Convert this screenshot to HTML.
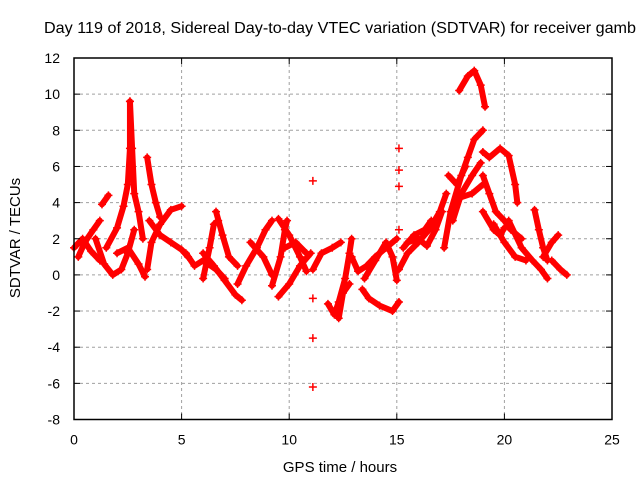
<!DOCTYPE html>
<html><head><meta charset="utf-8"><style>
body{margin:0;background:#fff}
svg{display:block;font-family:"Liberation Sans",sans-serif}
</style></head><body>
<svg id="chart" width="640" height="480" viewBox="0 0 640 480">
<text x="340" y="33" text-anchor="middle" font-size="16" textLength="592" lengthAdjust="spacingAndGlyphs" fill="#000">Day 119 of 2018, Sidereal Day-to-day VTEC variation (SDTVAR) for receiver gamb</text>
<text x="340" y="472" text-anchor="middle" font-size="15">GPS time / hours</text>
<text transform="translate(20,238) rotate(-90)" text-anchor="middle" font-size="15">SDTVAR / TECUs</text>
<g id="grid"></g>
<g id="marks"></g>
<g id="axes"></g>
</svg>
<script>
const xTicks=[0,5,10,15,20,25];
const yTicks=[-8,-6,-4,-2,0,2,4,6,8,10,12];
const traceA=[[0,1.5],[0.4,2.0],[0.8,1.3],[1.2,0.8]];
const traceB=[[0.2,1.0],[0.5,1.8],[0.9,2.5],[1.2,3.0]];
const traceC=[[1.3,3.9],[1.6,4.4]];
const traceD=[[1.0,2.0],[1.4,0.6],[1.8,0.0],[2.2,0.3],[2.5,1.2],[2.8,2.5]];
const traceE=[[1.5,1.5],[2.0,2.6],[2.3,3.8],[2.5,5.0],[2.6,7.0],[2.6,9.6]];
const traceF=[[2.6,9.6],[2.7,7.0],[2.8,4.5],[3.0,3.5],[3.2,2.0]];
const traceG=[[2.0,1.2],[2.5,1.5],[3.0,0.6],[3.3,-0.1]];
const traceH=[[3.4,6.5],[3.6,5.0],[3.8,4.0],[4.0,3.2]];
const traceI=[[3.4,0.3],[3.6,1.8],[4.0,2.8],[4.5,3.6],[5.0,3.8]];
const traceJ=[[3.5,3.0],[4.0,2.2],[4.5,1.8],[5.0,1.4],[5.3,1.0]];
const traceK=[[5.2,1.2],[5.6,0.5],[6.0,0.8],[6.6,0.3],[7.0,-0.2]];
const traceL=[[6.0,-0.2],[6.3,1.5],[6.5,2.8],[6.7,3.0]];
const traceM=[[6.6,3.5],[6.9,2.2],[7.2,1.0],[7.6,0.5]];
const traceN=[[6.0,1.2],[6.5,0.5],[7.0,-0.3],[7.5,-1.1],[7.8,-1.4]];
const traceO=[[7.6,-0.5],[8.0,0.5],[8.5,1.5],[8.9,2.5],[9.2,3.0]];
const traceP=[[8.2,1.8],[8.8,1.0],[9.2,0.0]];
const traceQ=[[9.2,-0.6],[9.6,1.0],[9.8,2.5],[9.9,3.0]];
const traceR=[[9.5,3.1],[10.0,2.2],[10.5,1.0],[10.8,0.2]];
const traceS=[[9.5,-1.2],[10.0,-0.5],[10.5,0.5],[11.0,1.2]];
const traceT=[[9.8,1.5],[10.3,1.8],[10.8,1.2]];
const traceU=[[11.1,0.3],[11.5,1.2],[12.0,1.5],[12.4,1.8]];
const traceV=[[11.8,-1.6],[12.1,-2.2],[12.3,-1.5],[12.6,-0.2],[12.8,1.2],[12.9,2.0]];
const traceW=[[12.3,-2.4],[12.5,-1.0],[12.8,-0.5]];
const traceX=[[12.9,1.0],[13.2,0.2],[13.6,0.5],[14.0,1.0],[14.5,1.5],[15.0,2.0]];
const traceY=[[13.4,-0.8],[13.7,-1.3],[14.2,-1.7],[14.8,-2.0],[15.1,-1.5]];
const traceZ=[[13.5,-0.2],[14.0,0.8],[14.5,1.8],[14.8,1.0],[15.0,-0.3]];
const traceAA=[[15.1,0.3],[15.5,1.2],[16.0,1.8],[16.5,2.5],[17.0,3.5],[17.3,4.5]];
const traceAB=[[15.3,1.5],[15.8,2.2],[16.3,2.5],[16.6,3.0]];
const traceAC=[[15.5,1.8],[16.0,2.0],[16.4,1.6],[16.8,2.5],[17.1,3.5]];
const traceAD=[[17.2,1.5],[17.5,3.5],[18.0,5.5],[18.3,6.5],[18.6,7.5],[19.0,8.0]];
const traceAE=[[17.4,5.5],[17.8,5.0],[18.2,6.0]];
const traceAF=[[17.6,3.0],[18.0,4.5],[18.5,5.5],[18.9,6.2]];
const traceAG=[[18.0,4.3],[18.5,4.5],[19.0,5.0]];
const traceAH=[[17.9,10.2],[18.3,11.0],[18.6,11.3],[18.9,10.5],[19.1,9.3]];
const traceAI=[[19.0,6.8],[19.3,6.5],[19.8,7.0],[20.2,6.6],[20.5,5.0],[20.6,4.0]];
const traceAJ=[[19.0,5.5],[19.3,4.5],[19.6,3.5],[20.0,3.0],[20.3,2.5],[20.8,2.0]];
const traceAK=[[19.0,3.5],[19.5,2.5],[19.8,2.2],[20.0,2.6]];
const traceAL=[[19.5,2.8],[20.0,1.8],[20.5,1.0],[21.0,0.8]];
const traceAM=[[20.2,3.0],[20.8,1.5],[21.3,0.8],[21.7,0.3],[22.0,-0.2]];
const traceAN=[[21.4,3.6],[21.6,2.5],[21.8,1.5],[22.0,0.8]];
const traceAO=[[21.8,1.0],[22.2,1.8],[22.5,2.2]];
const traceAP=[[22.2,0.8],[22.6,0.3],[22.9,0.0]];
const outliers=[[11.1,5.2],[11.1,-1.3],[11.1,-3.5],[11.1,-6.2],[15.1,7.0],[15.1,5.8],[15.1,4.9],[15.1,2.5]];
const traces=[traceA,traceB,traceC,traceD,traceE,traceF,traceG,traceH,traceI,traceJ,traceK,traceL,traceM,traceN,traceO,traceP,traceQ,traceR,traceS,traceT,traceU,traceV,traceW,traceX,traceY,traceZ,traceAA,traceAB,traceAC,traceAD,traceAE,traceAF,traceAG,traceAH,traceAI,traceAJ,traceAK,traceAL,traceAM,traceAN,traceAO,traceAP];

const L=74,R=612,T=58,B=419.5,xmin=0,xmax=25,ymin=-8,ymax=12;
function sx(v){return L+(v-xmin)/(xmax-xmin)*(R-L);}
function sy(v){return B-(v-ymin)/(ymax-ymin)*(B-T);}
const NS="http://www.w3.org/2000/svg";
function mk(tag,attrs,parent){const e=document.createElementNS(NS,tag);for(const k in attrs)e.setAttribute(k,attrs[k]);parent.appendChild(e);return e;}
const grid=document.getElementById('grid'),axes=document.getElementById('axes'),marks=document.getElementById('marks');
xTicks.forEach(t=>{
  const x=sx(t);
  if(t>xmin&&t<xmax){const g=mk('line',{x1:x,x2:x,y1:T,y2:B,stroke:'#a0a0a0','stroke-dasharray':'3,3','stroke-width':1},grid);
  
  }
  mk('line',{x1:x,x2:x,y1:B,y2:B-6,stroke:'#000'},axes);
  mk('line',{x1:x,x2:x,y1:T,y2:T+6,stroke:'#000'},axes);
  const lb=mk('text',{x:x,y:B+25,'text-anchor':'middle','font-size':14},axes);lb.textContent=t;
  
  
});
yTicks.forEach(t=>{
  const y=sy(t);
  if(t>ymin&&t<ymax){const g=mk('line',{x1:L,x2:R,y1:y,y2:y,stroke:'#a0a0a0','stroke-dasharray':'3,3','stroke-width':1},grid);
  
  }
  mk('line',{x1:L,x2:L+6,y1:y,y2:y,stroke:'#000'},axes);
  mk('line',{x1:R,x2:R-6,y1:y,y2:y,stroke:'#000'},axes);
  const lb=mk('text',{x:L-14,y:y+5,'text-anchor':'end','font-size':14},axes);lb.textContent=t;
  
  
});
const fr=mk('rect',{x:L,y:T,width:R-L,height:B-T,fill:'none',stroke:'#000','stroke-width':1.5},axes);


function plus(x,y){const p=mk('path',{d:`M${x-4} ${y}h8M${x} ${y-4}v8`,stroke:'#f00','stroke-width':1.5,fill:'none'},marks);
  
  }
traces.forEach(tr=>{
  const pl=mk('polyline',{points:tr.map(p=>sx(p[0])+','+sy(p[1])).join(' '),fill:'none',stroke:'#f00','stroke-width':6,'stroke-linejoin':'round','stroke-linecap':'round'},marks);
  
  
  tr.forEach(p=>plus(sx(p[0]),sy(p[1])));
});
outliers.forEach(p=>plus(sx(p[0]),sy(p[1])));
</script>
</body></html>
